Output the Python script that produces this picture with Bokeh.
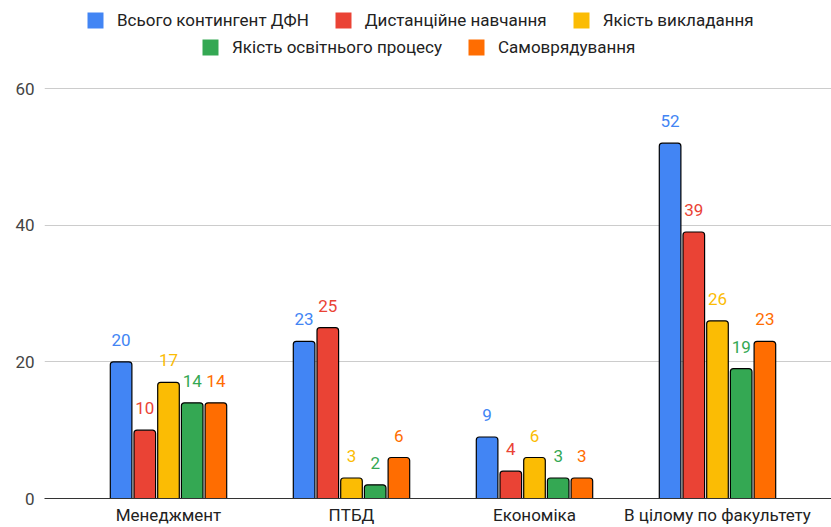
from bokeh.plotting import figure
from bokeh.models import ColumnDataSource, Range1d, FixedTicker, Legend, LegendItem
from bokeh.transform import dodge
from bokeh.core.properties import value
from bokeh.embed import file_html
from bokeh.resources import INLINE

categories = ["Менеджмент", "ПТБД", "Економіка", "В цілому по факультету"]
series_names = ["Всього контингент ДФН", "Дистанційне навчання", "Якість викладання",
                "Якість освітнього процесу", "Самоврядування"]
total_dfn = [20, 23, 9, 52]
distance_learning = [10, 25, 4, 39]
teaching_quality = [17, 3, 6, 26]
process_quality = [14, 2, 3, 19]
self_government = [14, 6, 3, 23]
series_values = [total_dfn, distance_learning, teaching_quality, process_quality, self_government]
colors = ["#4285F4", "#EA4335", "#FBBC04", "#34A853", "#FF6D01"]
y_ticks = [0, 20, 40, 60]

FONT = "Roboto"

# the frame also covers the legend area; gridlines only at y_ticks (0..60)
p = figure(width=831, height=527, output_backend="svg", toolbar_location=None,
           x_range=Range1d(-0.6776, 3.623), y_range=Range1d(0, 72.88),
           min_border_left=44, min_border_right=0, min_border_top=0, min_border_bottom=29)
p.outline_line_color = None
p.background_fill_color = "white"
p.border_fill_color = "white"

x_idx = list(range(len(categories)))
step = 0.1295
bar_w = 0.118

legend_items = []
for i, (name, vals, col) in enumerate(zip(series_names, series_values, colors)):
    off = (i - 2) * step
    src = ColumnDataSource(dict(x=x_idx, top=vals, lab=[str(v) for v in vals]))
    p.vbar(x=dodge("x", off, range=p.x_range), top="top", width=bar_w, source=src,
           fill_color=col, line_color="#000000", line_width=1.2,
           border_radius=(3, 3, 0, 0))
    p.text(x=dodge("x", off, range=p.x_range), y="top", text="lab", source=src,
           text_color=col, text_font=value(FONT), text_font_size="17px",
           text_align="center", text_baseline="alphabetic", y_offset=-22)
    # zero-height (invisible) bars used only as legend swatches without outline
    swatch = p.vbar(x="x", top=0, bottom=0, width=bar_w, source=src,
                    fill_color=col, line_color=None)
    legend_items.append(LegendItem(label=name, renderers=[swatch]))

common = dict(orientation="horizontal", padding=0, margin=0, spacing=24,
              label_standoff=12, glyph_width=20, glyph_height=20, label_height=20,
              label_text_font=FONT, label_text_font_size="17px", label_text_color="#222222",
              border_line_color=None, background_fill_alpha=0)
# tuple location = bottom-left corner of the legend, in px from the frame's bottom-left
leg1 = Legend(items=legend_items[:3], location=(41, 468), **common)
leg2 = Legend(items=legend_items[3:], location=(156, 441), **common)
p.add_layout(leg1, "center")
p.add_layout(leg2, "center")

p.xaxis.ticker = FixedTicker(ticks=x_idx)
p.xaxis.major_label_overrides = {i: c for i, c in enumerate(categories)}
p.xaxis.major_tick_line_color = None
p.xaxis.minor_tick_line_color = None
p.xaxis.major_tick_out = 0
p.xaxis.major_tick_in = 0
p.xaxis.axis_line_color = "#333333"
p.xaxis.axis_line_width = 1
p.xaxis.major_label_text_font = FONT
p.xaxis.major_label_text_font_size = "17px"
p.xaxis.major_label_text_color = "#222222"
p.xaxis.major_label_standoff = 6

p.yaxis.ticker = FixedTicker(ticks=y_ticks)
p.yaxis.major_tick_line_color = None
p.yaxis.minor_tick_line_color = None
p.yaxis.axis_line_color = None
p.yaxis.major_label_text_font = FONT
p.yaxis.major_label_text_font_size = "17px"
p.yaxis.major_label_text_color = "#444444"
p.yaxis.major_label_standoff = 4

p.xgrid.grid_line_color = None
p.ygrid.grid_line_color = "#cccccc"
p.ygrid.grid_line_width = 1

open("out.html", "w").write(file_html(p, INLINE))
